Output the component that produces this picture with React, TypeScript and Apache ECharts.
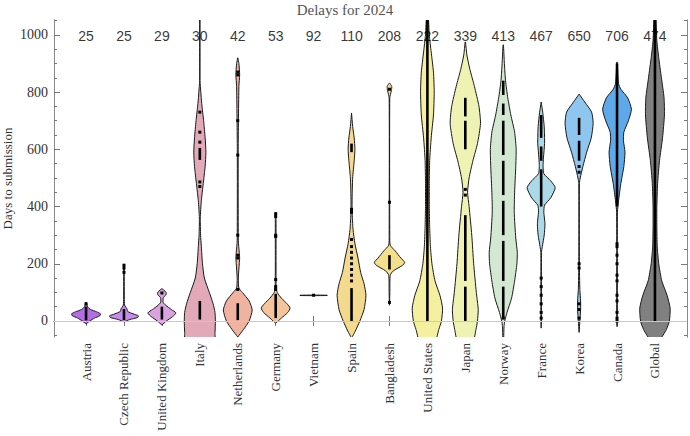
import React, { useEffect, useRef } from "react";
import * as echarts from "echarts";

const categories = [
  "Austria", "Czech Republic", "United Kingdom", "Italy", "Netherlands", "Germany",
  "Vietnam", "Spain", "Bangladesh", "United States", "Japan", "Norway",
  "France", "Korea", "Canada", "Global",
];

const medians = [25, 25, 29, 30, 42, 53, 92, 110, 208, 222, 339, 413, 467, 650, 706, 474];

const fillColors = [
  "#b56de6", "#c98af0", "#dba2e2", "#e2a9b9", "#f0b3a0", "#f4c49a",
  "#f3d890", "#f4da8e", "#f4e08c", "#f4f0a0", "#eef3b4", "#d3e8d1",
  "#abd9e8", "#8ec6f0", "#5ea9ea", "#808080",
];

// violin outlines: [days, half width in category units]
const austriaShape = [[-10, 0], [0, 0.1], [10, 0.22], [18, 0.36], [25, 0.38], [32, 0.28], [40, 0.12], [50, 0.04], [65, 0.008]];
const czechShape = [[-3, 0], [5, 0.15], [12, 0.36], [18, 0.38], [25, 0.24], [33, 0.1], [42, 0.08], [48, 0.05], [56, 0.015], [80, 0.008], [195, 0.005]];
const ukShape = [[-14, 0], [0, 0.12], [15, 0.28], [28, 0.37], [40, 0.25], [55, 0.1], [66, 0.03], [82, 0.04], [92, 0.11], [100, 0.11], [108, 0.05], [113, 0]];
const italyShape = [[-70, 0.38], [-40, 0.4], [0, 0.41], [30, 0.4], [60, 0.35], [100, 0.25], [150, 0.12], [200, 0.07], [260, 0.04], [300, 0.02], [360, 0.012], [420, 0.04], [480, 0.09], [540, 0.14], [590, 0.16], [640, 0.14], [700, 0.1], [760, 0.05], [820, 0.015], [840, 0.005], [1070, 0.005]];
const netherlandsShape = [[-56, 0], [-30, 0.15], [0, 0.3], [38, 0.38], [70, 0.3], [100, 0.12], [115, 0.03], [150, 0.015], [200, 0.04], [220, 0.05], [240, 0.04], [280, 0.015], [600, 0.012], [820, 0.03], [860, 0.05], [900, 0.03], [920, 0]];
const germanyShape = [[-8, 0], [10, 0.15], [30, 0.32], [45, 0.38], [60, 0.3], [80, 0.15], [100, 0.04], [120, 0.012], [378, 0.008]];
const vietnamShape = [[88.5, 0], [89, 0.36], [90, 0.36], [90.5, 0]];
const spainShape = [[-60, 0], [-35, 0.1], [0, 0.22], [40, 0.33], [90, 0.38], [130, 0.33], [170, 0.24], [220, 0.17], [270, 0.09], [320, 0.04], [380, 0.015], [430, 0.015], [500, 0.03], [560, 0.07], [600, 0.09], [640, 0.07], [680, 0.03], [727, 0]];
const bangladeshShape = [[55, 0], [100, 0.01], [160, 0.02], [175, 0.1], [195, 0.35], [205, 0.4], [220, 0.3], [245, 0.15], [265, 0.02], [300, 0.008], [780, 0.008], [805, 0.05], [820, 0.06], [832, 0]];
const usShape = [[-70, 0.2], [-30, 0.3], [0, 0.37], [45, 0.4], [90, 0.33], [140, 0.2], [200, 0.12], [260, 0.08], [330, 0.06], [400, 0.05], [480, 0.05], [560, 0.06], [640, 0.1], [720, 0.16], [800, 0.18], [870, 0.16], [940, 0.1], [1000, 0.05], [1070, 0.02]];
const japanShape = [[-70, 0.2], [-30, 0.28], [0, 0.32], [40, 0.34], [100, 0.29], [200, 0.22], [300, 0.17], [400, 0.1], [450, 0.06], [500, 0.1], [560, 0.2], [620, 0.32], [690, 0.4], [750, 0.36], [820, 0.24], [880, 0.12], [930, 0.04], [975, 0.005]];
const norwayShape = [[-60, 0.01], [-20, 0.02], [0, 0.04], [30, 0.1], [80, 0.22], [140, 0.3], [200, 0.36], [240, 0.37], [290, 0.33], [380, 0.29], [450, 0.3], [540, 0.33], [600, 0.34], [660, 0.3], [720, 0.2], [780, 0.12], [840, 0.06], [900, 0.03], [965, 0.005]];
const franceShape = [[-25, 0], [0, 0.008], [240, 0.008], [260, 0.03], [300, 0.08], [340, 0.1], [380, 0.07], [405, 0.09], [430, 0.25], [466, 0.37], [490, 0.25], [515, 0.07], [540, 0.05], [570, 0.06], [620, 0.09], [680, 0.08], [730, 0.04], [765, 0]];
const koreaShape = [[-40, 0], [0, 0.02], [40, 0.04], [70, 0.04], [110, 0.02], [200, 0.008], [480, 0.008], [500, 0.03], [540, 0.1], [590, 0.2], [640, 0.32], [690, 0.37], [730, 0.33], [765, 0.15], [793, 0]];
const canadaShape = [[-20, 0], [0, 0.008], [380, 0.01], [420, 0.04], [480, 0.1], [540, 0.18], [590, 0.21], [630, 0.17], [660, 0.18], [700, 0.3], [740, 0.38], [780, 0.28], [810, 0.1], [830, 0.04], [905, 0.005]];
const globalShape = [[-70, 0.1], [-30, 0.3], [0, 0.38], [45, 0.4], [90, 0.32], [140, 0.18], [200, 0.1], [260, 0.06], [330, 0.05], [400, 0.05], [480, 0.07], [560, 0.12], [640, 0.2], [720, 0.25], [780, 0.24], [850, 0.17], [920, 0.1], [980, 0.05], [1070, 0.02]];

const shapes = [
  austriaShape, czechShape, ukShape, italyShape, netherlandsShape, germanyShape,
  vietnamShape, spainShape, bangladeshShape, usShape, japanShape, norwayShape,
  franceShape, koreaShape, canadaShape, globalShape,
];

// dense runs of observations [from, to]
const denseRuns = [
  [[2, 50]],
  [[3, 42]],
  [[5, 50]],
  [[5, 70], [563, 605]],
  [[3, 62]],
  [[10, 95]],
  [],
  [[0, 115], [590, 620]],
  [[180, 230]],
  [[0, 1060]],
  [[0, 120], [140, 370], [600, 700], [715, 780]],
  [[8, 120], [140, 280], [300, 420], [440, 560], [580, 700], [720, 760], [790, 840]],
  [[400, 530], [560, 610], [640, 720]],
  [[560, 630], [650, 710]],
  [[400, 900]],
  [[0, 1060]],
];

// single observations
const singlePoints = [
  [60],
  [170, 185, 195],
  [98],
  [470, 486, 625, 660, 730],
  [110, 220, 230, 300, 580, 700, 860, 870],
  [110, 120, 145, 295, 300, 365, 375],
  [90],
  [140, 160, 180, 200, 220, 240, 260, 285, 380, 390],
  [65, 415, 810],
  [],
  [440, 460],
  [10],
  [10, 30, 60, 90, 120, 150],
  [10, 40, 60, 185, 200, 520, 540],
  [0, 10, 30, 70, 90, 140, 160, 200, 230, 260, 270],
  [],
];

const yMajorTicks = [0, 200, 400, 600, 800, 1000];
const yMinorTicks = [-50, 50, 100, 150, 250, 300, 350, 450, 500, 550, 650, 700, 750, 850, 900, 950, 1050];
const xTicks = categories.map((_, i) => i + 1);

const SERIF = "Liberation Serif";
const SANS = "Liberation Sans";

export default function App() {
  const ref = useRef<HTMLDivElement>(null);

  useEffect(() => {
    document.body.style.margin = "0";
    const chart = echarts.init(ref.current!, null, { renderer: "svg" });
    const yMin = -56;
    const yMax = 1052;

    const yBase = {
      type: "value",
      min: yMin,
      max: yMax,
      splitLine: { show: false },
      axisLine: { show: true, lineStyle: { color: "#888" } },
    };

    const option: any = {
      animation: false,
      backgroundColor: "#fff",
      title: {
        text: "Delays for 2024",
        left: "center",
        top: -3,
        textStyle: { fontFamily: SERIF, fontSize: 15, fontWeight: "normal", color: "#555" },
      },
      grid: { left: 54, right: 3, top: 20, bottom: 99, outerBoundsMode: "none", containLabel: false },
      xAxis: [
        {
          type: "value",
          min: 0.155,
          max: 16.845,
          position: "bottom",
          splitLine: { show: false },
          axisLine: { show: true, lineStyle: { color: "#888" } },
          axisTick: { show: true, inside: true, length: 5, customValues: xTicks, lineStyle: { color: "#777" } },
          axisLabel: {
            customValues: xTicks,
            rotate: 90,
            margin: 6,
            fontFamily: SERIF,
            fontSize: 13,
            color: "#333",
            formatter: (v: number) => categories[Math.round(v) - 1] ?? "",
          },
        },
        {
          type: "value",
          min: 0.155,
          max: 16.845,
          position: "top",
          splitLine: { show: false },
          axisLine: { show: true, lineStyle: { color: "#888" } },
          axisTick: { show: true, inside: true, length: 5, customValues: xTicks, lineStyle: { color: "#777" } },
          axisLabel: { show: false },
        },
      ],
      yAxis: [
        {
          ...yBase,
          position: "left",
          name: "Days to submission",
          nameLocation: "middle",
          nameGap: 40,
          nameMoveOverlap: false,
          nameTextStyle: { fontFamily: SERIF, fontSize: 13, color: "#333" },
          axisTick: { show: true, inside: true, length: 6, customValues: yMajorTicks, lineStyle: { color: "#777" } },
          axisLabel: {
            customValues: yMajorTicks,
            fontFamily: SERIF,
            fontSize: 14,
            color: "#333",
            margin: 6,
            formatter: (v: number) => String(v),
          },
        },
        {
          ...yBase,
          position: "left",
          axisTick: { show: true, inside: true, length: 3, customValues: yMinorTicks, lineStyle: { color: "#777" } },
          axisLabel: { show: false },
        },
        {
          ...yBase,
          position: "right",
          axisTick: { show: true, inside: true, length: 6, customValues: yMajorTicks, lineStyle: { color: "#777" } },
          axisLabel: { show: false },
        },
        {
          ...yBase,
          position: "right",
          axisTick: { show: true, inside: true, length: 3, customValues: yMinorTicks, lineStyle: { color: "#777" } },
          axisLabel: { show: false },
        },
      ],
      series: [
        {
          type: "scatter",
          xAxisIndex: 0,
          yAxisIndex: 0,
          symbolSize: 0,
          z: 1,
          data: [],
          markLine: {
            silent: true,
            symbol: "none",
            label: { show: false },
            lineStyle: { color: "#c8c8c8", type: "solid", width: 1 },
            data: [{ yAxis: 0 }],
          },
        },
        {
          type: "custom",
          xAxisIndex: 0,
          yAxisIndex: 0,
          clip: true,
          z: 2,
          data: categories.map((_, i) => [i + 1]),
          renderItem: (params: any, api: any) => {
            const idx = params.dataIndex;
            const cx = idx + 1;
            const prof = shapes[idx];
            const right = prof.map(([v, w]) => api.coord([cx + w, v]));
            const left = prof.slice().reverse().map(([v, w]) => api.coord([cx - w, v]));
            const children: any[] = [
              {
                type: "polygon",
                shape: { points: right.concat(left), smooth: 0.2 },
                style: { fill: fillColors[idx], stroke: "#1a1a1a", lineWidth: 1 },
              },
            ];
            for (const [a, b] of denseRuns[idx]) {
              const p1 = api.coord([cx, a]);
              const p2 = api.coord([cx, b]);
              children.push({
                type: "line",
                shape: { x1: p1[0], y1: p1[1], x2: p2[0], y2: p2[1] },
                style: { stroke: "#000", lineWidth: 2.6 },
              });
            }
            for (const v of singlePoints[idx]) {
              const p = api.coord([cx, v]);
              children.push({
                type: "rect",
                shape: { x: p[0] - 1.5, y: p[1] - 1.5, width: 3, height: 3 },
                style: { fill: "#000" },
              });
            }
            return { type: "group", children };
          },
        },
        {
          type: "scatter",
          xAxisIndex: 0,
          yAxisIndex: 0,
          symbolSize: 0,
          z: 5,
          data: medians.map((m, i) => ({ value: [i + 1, 995], name: String(m) })),
          label: {
            show: true,
            position: "inside",
            formatter: (p: any) => p.name,
            fontFamily: SANS,
            fontSize: 14,
            color: "#000",
          },
        },
      ],
    };

    chart.setOption(option);
    return () => chart.dispose();
  }, []);

  return <div ref={ref} style={{ width: 690, height: 436 }} />;
}
